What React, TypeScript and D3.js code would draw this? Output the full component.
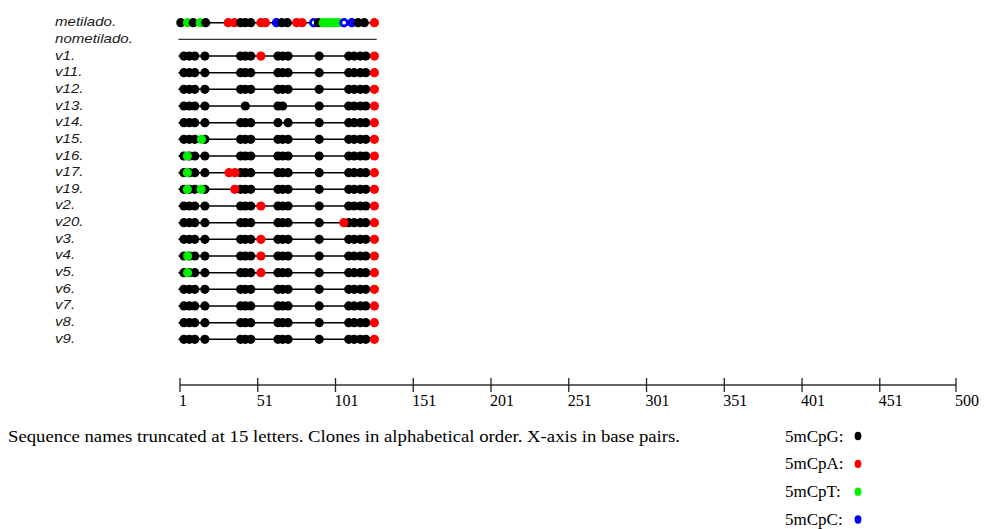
import * as d3 from "d3";

// rows, top to bottom
const rowNames = [
  "metilado.", "nometilado.", "v1.", "v11.", "v12.", "v13.", "v14.", "v15.", "v16.", "v17.",
  "v19.", "v2.", "v20.", "v3.", "v4.", "v5.", "v6.", "v7.", "v8.", "v9.",
];
const clones = rowNames.slice(2);

const sequenceStart = 0;
const sequenceEnd = 127.5;

// CpG sites shared by all clones (bp)
const cpgSites = [3.5, 7, 10.5, 17, 40, 43, 46.5, 64, 67, 70.5, 90.5, 109.5, 113, 117, 120.5];
// non-CpG call seen in every clone
const sharedCalls: [number, string][] = [[126, "CpA"]];

// CpG sites left out in single clones
const absentCpG: [string, number][] = [
  ["v13.", 40], ["v13.", 46.5], ["v13.", 70.5],
  ["v14.", 67],
];

// clone-specific non-CpG calls [clone, bp, context]
const extraCalls: [string, number, string][] = [
  ["v1.", 53, "CpA"],
  ["v15.", 14.8, "CpT"],
  ["v16.", 5.7, "CpT"],
  ["v17.", 5.7, "CpT"], ["v17.", 32.5, "CpA"], ["v17.", 36.4, "CpA"],
  ["v19.", 5.7, "CpT"], ["v19.", 14.6, "CpT"], ["v19.", 36.2, "CpA"],
  ["v2.", 53, "CpA"],
  ["v20.", 106.3, "CpA"],
  ["v3.", 53, "CpA"],
  ["v4.", 5.9, "CpT"], ["v4.", 53, "CpA"],
  ["v5.", 5.9, "CpT"], ["v5.", 53, "CpA"],
];

// reference row "metilado."
const metiladoPositions = [
  1.5, 5.8, 9.5, 14, 17.5, 32, 36, 40, 43, 46.5, 53, 56, 63, 66.5, 70, 76, 79.5,
  87, 90, 93, 95.5, 98, 100.5, 103, 106.5, 111.5, 115.5, 119.5, 126,
];
const metiladoContexts = [
  "CpG", "CpT", "CpG", "CpT", "CpG", "CpA", "CpA", "CpG", "CpG", "CpG", "CpA", "CpA", "CpC", "CpG", "CpG", "CpA", "CpA",
  "CpC", "CpG", "CpT", "CpT", "CpT", "CpT", "CpT", "CpC", "CpC", "CpG", "CpG", "CpA",
];
const hollowPositions = [87, 106.5];

const contexts = ["CpG", "CpA", "CpT", "CpC"];
const contextColors = ["#000000", "#ff0000", "#00ee00", "#0000ff"];
const legendLabels = ["5mCpG:", "5mCpA:", "5mCpT:", "5mCpC:"];

const axisTicks = [1, 51, 101, 151, 201, 251, 301, 351, 401, 451, 500];
const caption =
  "Sequence names truncated at 15 letters. Clones in alphabetical order. X-axis in base pairs.";

const W = 984;
const H = 529;
const R = 4.6;

export default function App() {
  const x = d3.scaleLinear().domain([1, 500]).range([180, 956]);
  const y = d3.scalePoint<string>().domain(rowNames).range([22.7, 339.3]);
  const color = d3.scaleOrdinal<string, string>().domain(contexts).range(contextColors);
  const legendY = d3.scalePoint<string>().domain(legendLabels).range([436, 519.5]);
  const axisY = 385;

  const cloneDots = (clone: string) => {
    const gone = absentCpG.filter((d) => d[0] === clone).map((d) => d[1]);
    const dots: [number, string][] = cpgSites
      .filter((s) => !gone.includes(s))
      .map((s) => [s, "CpG"] as [number, string]);
    extraCalls.filter((d) => d[0] === clone).forEach((d) => dots.push([d[1], d[2]]));
    sharedCalls.forEach((d) => dots.push(d));
    return dots;
  };

  return (
    <div style={{ position: "absolute", left: 0, top: 0 }}>
      <svg width={W} height={H} style={{ display: "block", background: "#fff" }}>
        {/* row labels */}
        <g fontFamily="'Liberation Sans', Arial, sans-serif" fontStyle="italic" fontSize={13} fill="#1a1a1a">
          {rowNames.map((n) => (
            <text key={n} transform={`translate(55,${y(n)! + 3.5}) scale(1.16,1)`}>
              {n}
            </text>
          ))}
        </g>

        {/* metilado reference */}
        <g>
          <line x1={x(sequenceStart)} x2={x(sequenceEnd)} y1={y("metilado.")} y2={y("metilado.")} stroke="#000" strokeWidth={1.5} />
          {metiladoPositions.map((p, i) =>
            hollowPositions.includes(p) ? (
              <circle key={i} cx={x(p)} cy={y("metilado.")} r={R - 1.3} fill="#fff" stroke={color("CpC")} strokeWidth={2.8} />
            ) : (
              <circle key={i} cx={x(p)} cy={y("metilado.")} r={R} fill={color(metiladoContexts[i])} />
            )
          )}
        </g>

        {/* nometilado */}
        <line x1={x(sequenceStart)} x2={x(sequenceEnd)} y1={y("nometilado.")} y2={y("nometilado.")} stroke="#333" strokeWidth={1.3} />

        {/* clones */}
        {clones.map((c) => (
          <g key={c}>
            <line x1={x(sequenceStart)} x2={x(sequenceEnd)} y1={y(c)} y2={y(c)} stroke="#000" strokeWidth={1.5} />
            {cloneDots(c).map((d, i) => (
              <circle key={i} cx={x(d[0])} cy={y(c)} r={R} fill={color(d[1])} />
            ))}
          </g>
        ))}

        {/* x axis */}
        <g fontFamily="'Liberation Serif', 'Times New Roman', serif" fontSize={16} fill="#000">
          <line x1={x(1)} x2={x(500)} y1={axisY} y2={axisY} stroke="#333" strokeWidth={1.5} />
          {axisTicks.map((t) => (
            <g key={t}>
              <line x1={x(t)} x2={x(t)} y1={axisY - 7} y2={axisY + 7} stroke="#222" strokeWidth={1.3} />
              <text x={x(t) - 1} y={406}>
                {t}
              </text>
            </g>
          ))}
        </g>

        {/* caption */}
        <text
          x={8}
          y={441.5}
          fontFamily="'Liberation Serif', 'Times New Roman', serif"
          fontSize={16}
          textLength={672}
          lengthAdjust="spacingAndGlyphs"
          fill="#000"
        >
          {caption}
        </text>

        {/* legend */}
        <g fontFamily="'Liberation Serif', 'Times New Roman', serif" fontSize={17} fill="#000">
          {legendLabels.map((l, i) => (
            <g key={l}>
              <text x={785} y={legendY(l)! + 5.5}>
                {l}
              </text>
              <ellipse cx={858} cy={legendY(l)!} rx={3.4} ry={4.2} fill={color(contexts[i])} />
            </g>
          ))}
        </g>
      </svg>
    </div>
  );
}
